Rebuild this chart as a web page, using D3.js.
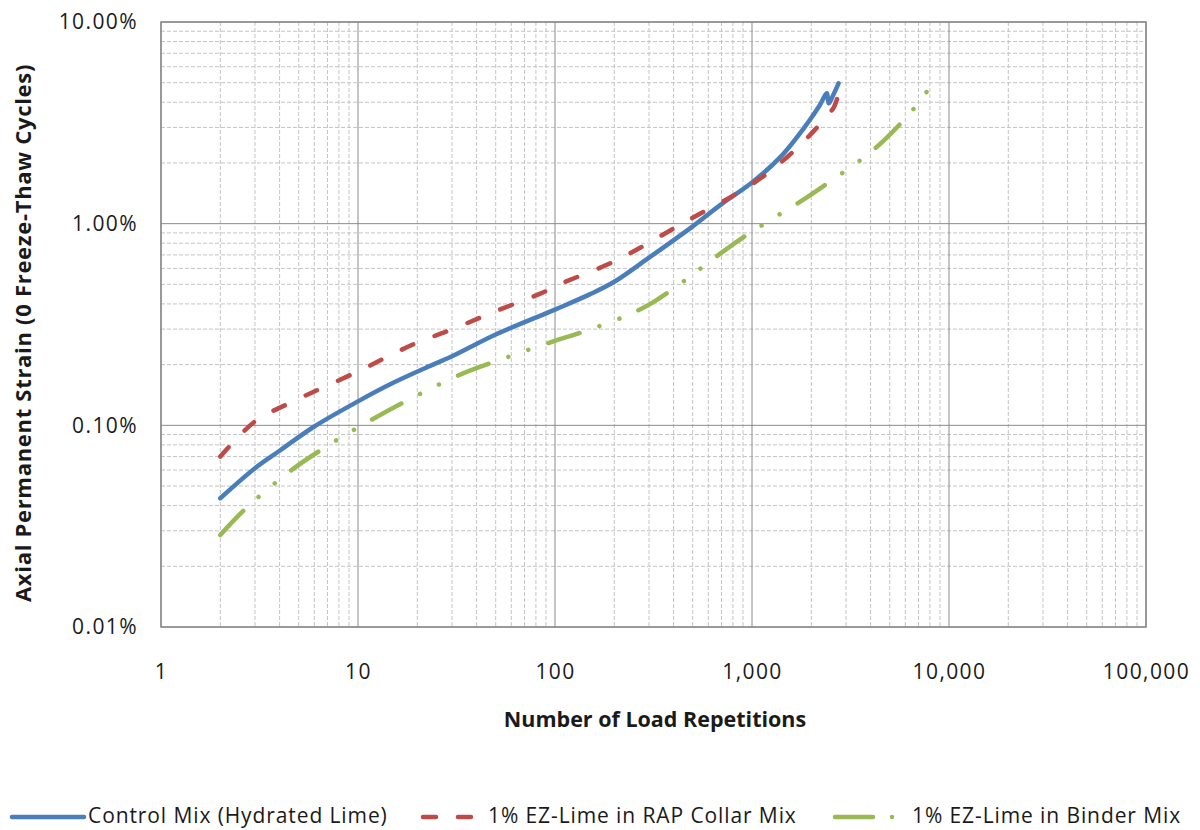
<!DOCTYPE html>
<html>
<head>
<meta charset="utf-8">
<script src="https://cdn.jsdelivr.net/npm/d3@7"></script>
<style>
  body { margin: 0; background: #fff; }
  text { font-family: "Open Sans", sans-serif; fill: #1a1a1a; }
</style>
</head>
<body>
<svg id="chart" width="1200" height="830"></svg>
<script>
// load repetitions / axial permanent strain (%)
const controlN = [2, 3, 4, 6, 10, 15, 22, 30, 50, 100, 150, 200, 300, 500, 700, 1000, 1400, 1900, 2200, 2400, 2450, 2600, 2750];
const controlS = [0.0435, 0.0613, 0.0748, 0.0987, 0.1315, 0.162, 0.1925, 0.22, 0.282, 0.375, 0.446, 0.515, 0.678, 0.97, 1.25, 1.6, 2.15, 3.12, 3.84, 4.43, 3.95, 4.4, 4.96];

const rapN = [2, 3, 4.5, 10, 19, 30, 50, 90, 100, 200, 450, 1000, 1500, 2140, 2600, 2750, 2920, 3130];
const rapS = [0.070, 0.1046, 0.129, 0.185, 0.2516, 0.299, 0.368, 0.463, 0.49, 0.65, 1.01, 1.57, 2.13, 3.0, 3.77, 4.23, 3.99, 4.43];

const binderN = [2, 2.7, 4.6, 6.7, 10, 17.7, 33.7, 50, 104, 129, 228, 311, 476, 614, 925, 1214, 1900, 2450, 3700, 4660, 6600, 7970];
const binderS = [0.0286, 0.0388, 0.060, 0.077, 0.0976, 0.1325, 0.18, 0.2077, 0.266, 0.284, 0.348, 0.405, 0.539, 0.653, 0.869, 1.03, 1.35, 1.6, 2.13, 2.58, 3.70, 4.71];

const seriesNames = ["Control Mix (Hydrated Lime)", "1% EZ-Lime in RAP Collar Mix", "1% EZ-Lime in Binder Mix"];
const xTicks = [1, 10, 100, 1000, 10000, 100000];
const yTicks = [0.01, 0.1, 1, 10];

const series = [
  { name: seriesNames[0], n: controlN, s: controlS, color: "#4a7ebb", dash: null },
  { name: seriesNames[1], n: rapN, s: rapS, color: "#be4b48", dash: "12.5,23" },
  { name: seriesNames[2], n: binderN, s: binderS, color: "#98b954", dash: "33,21,0.01,21,0.01,21" }
];

const margin = { top: 22, right: 54, bottom: 203, left: 161 };
const width = 1200 - margin.left - margin.right;
const height = 830 - margin.top - margin.bottom;

const svg = d3.select("#chart");
const g = svg.append("g").attr("transform", `translate(${margin.left},${margin.top})`);

const x = d3.scaleLog().domain([1, 100000]).range([0, width]);
const y = d3.scaleLog().domain([0.01, 10]).range([height, 0]);

// minor grid
const minorX = [], minorY = [];
for (let p = 0; p < 5; p++) for (let k = 2; k < 10; k++) minorX.push(k * Math.pow(10, p));
for (let p = -2; p < 1; p++) for (let k = 2; k < 10; k++) minorY.push(k * Math.pow(10, p));

const grid = g.append("g");
grid.selectAll("line.mx").data(minorX).join("line")
  .attr("x1", d => x(d)).attr("x2", d => x(d)).attr("y1", 0).attr("y2", height)
  .attr("stroke", "#c4c4c4").attr("stroke-dasharray", "4,2");
grid.selectAll("line.my").data(minorY).join("line")
  .attr("y1", d => y(d)).attr("y2", d => y(d)).attr("x1", 0).attr("x2", width)
  .attr("stroke", "#c4c4c4").attr("stroke-dasharray", "4,2");
grid.selectAll("line.Mx").data(xTicks).join("line")
  .attr("x1", d => x(d)).attr("x2", d => x(d)).attr("y1", 0).attr("y2", height)
  .attr("stroke", "#8a8a8a");
grid.selectAll("line.My").data(yTicks).join("line")
  .attr("y1", d => y(d)).attr("y2", d => y(d)).attr("x1", 0).attr("x2", width)
  .attr("stroke", "#8a8a8a");
g.append("rect").attr("width", width).attr("height", height)
  .attr("fill", "none").attr("stroke", "#8a8a8a").attr("stroke-width", 1.5);

// axes (labels only)
const xAxis = g.append("g").attr("transform", `translate(0,${height})`)
  .call(d3.axisBottom(x).tickValues(xTicks).tickFormat(d3.format(",")).tickSize(0).tickPadding(37));
const yAxis = g.append("g")
  .call(d3.axisLeft(y).tickValues(yTicks).tickFormat(d => d.toFixed(2) + "%").tickSize(0).tickPadding(23));
[xAxis, yAxis].forEach(a => {
  a.select(".domain").remove();
  a.selectAll("text").attr("font-family", "Open Sans").attr("font-size", 21)
    .attr("letter-spacing", 1.4).attr("fill", "#1a1a1a");
});

// lines
const line = d3.line().x(d => x(d[0])).y(d => y(d[1])).curve(d3.curveCatmullRom);
g.selectAll("path.series").data(series).join("path")
  .attr("class", "series")
  .attr("d", d => line(d.n.map((v, i) => [v, d.s[i]])))
  .attr("fill", "none")
  .attr("stroke", d => d.color)
  .attr("stroke-width", 4.5)
  .attr("stroke-linecap", "round")
  .attr("stroke-linejoin", "round")
  .attr("stroke-dasharray", d => d.dash);

// axis titles
svg.append("text")
  .attr("x", 655).attr("y", 727)
  .attr("text-anchor", "middle").attr("font-weight", "bold").attr("font-size", 21.5)
  .text("Number of Load Repetitions");
svg.append("text")
  .attr("transform", "translate(31,333) rotate(-90)")
  .attr("text-anchor", "middle").attr("font-weight", "bold").attr("font-size", 22)
  .attr("letter-spacing", 0.7)
  .text("Axial Permanent Strain (0 Freeze-Thaw Cycles)");

// legend
const legendX = [10, 421, 833];
const legend = svg.append("g").attr("transform", "translate(0,817)");
const items = legend.selectAll("g").data(series).join("g")
  .attr("transform", (d, i) => `translate(${legendX[i]},0)`);
items.append("line")
  .attr("x1", 2).attr("x2", (d, i) => i === 0 ? 74 : i === 1 ? 52 : 60)
  .attr("stroke", d => d.color).attr("stroke-width", 4.5).attr("stroke-linecap", "round")
  .attr("stroke-dasharray", (d, i) => i === 0 ? null : i === 1 ? "13,22" : "38,19,0.01,19");
items.append("text")
  .attr("x", (d, i) => i === 0 ? 78 : i === 1 ? 67 : 79)
  .attr("y", 6).attr("font-size", 21).attr("letter-spacing", 0.9)
  .text(d => d.name);
</script>
</body>
</html>
